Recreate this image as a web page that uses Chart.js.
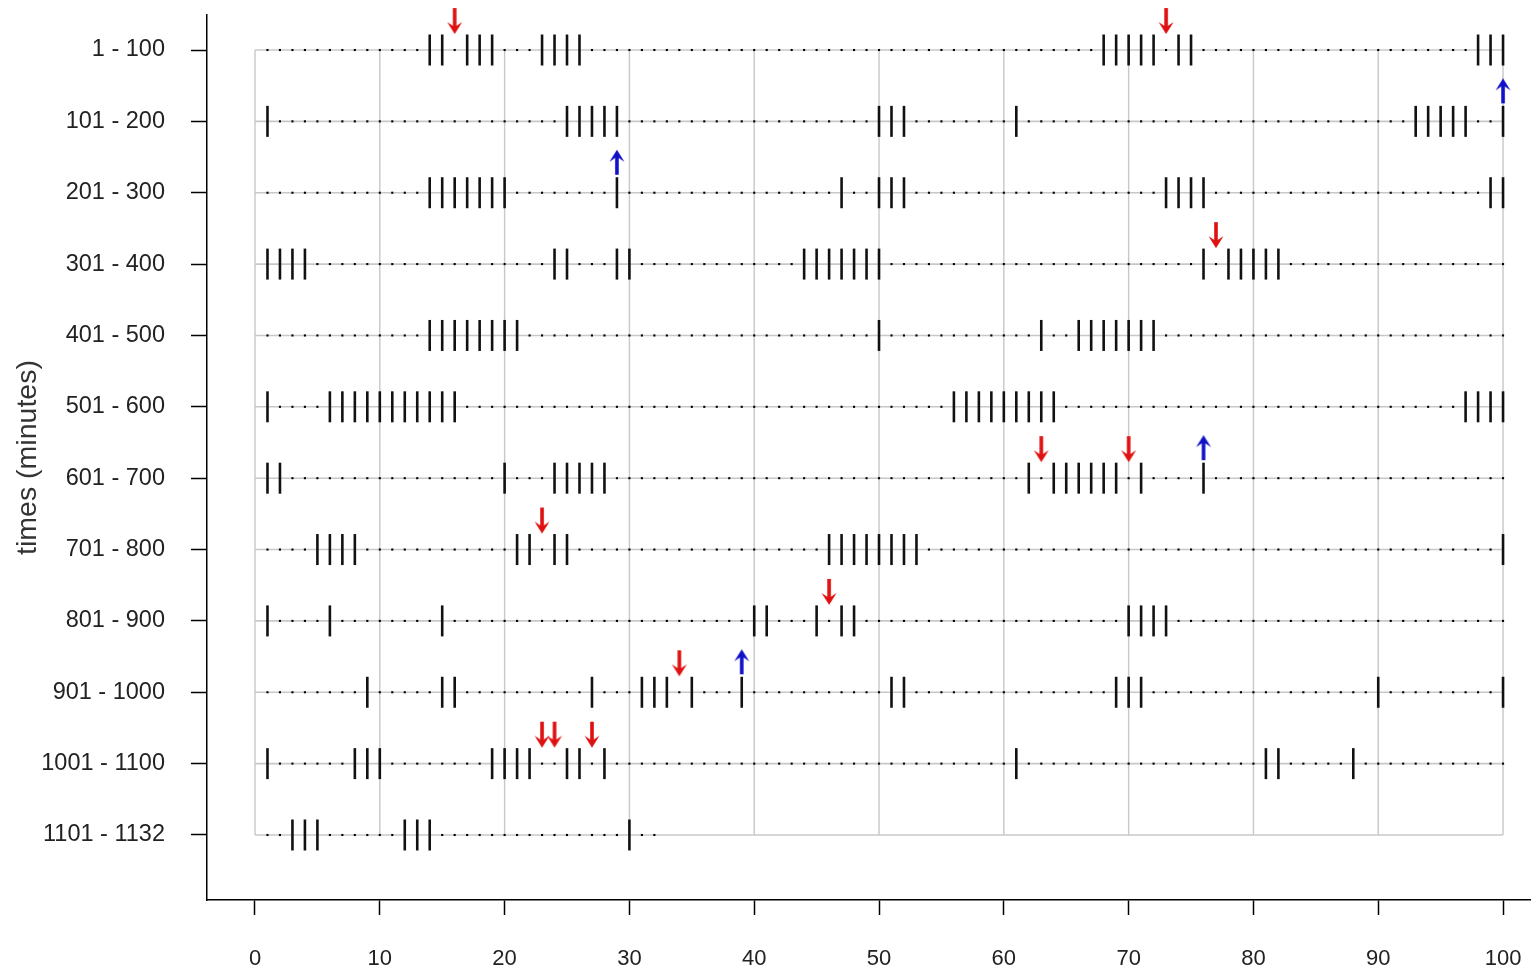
<!DOCTYPE html>
<html><head><meta charset="utf-8">
<script src="https://cdn.jsdelivr.net/npm/chart.js@4"></script>
<style>html,body{margin:0;padding:0;background:#fff;overflow:hidden}canvas{display:block}</style>
</head><body>
<canvas id="c" width="1536" height="974"></canvas>
<script>
// ---- data ----
const rowLabels = ['1 - 100','101 - 200','201 - 300','301 - 400','401 - 500','501 - 600',
  '601 - 700','701 - 800','801 - 900','901 - 1000','1001 - 1100','1101 - 1132'];
const rowSpans = [100,100,100,100,100,100,100,100,100,100,100,32];
const row01 = [14,15,17,18,19,23,24,25,26,68,69,70,71,72,74,75,98,99,100];
const row02 = [1,25,26,27,28,29,50,51,52,61,93,94,95,96,97,100];
const row03 = [14,15,16,17,18,19,20,29,47,50,51,52,73,74,75,76,99,100];
const row04 = [1,2,3,4,24,25,29,30,44,45,46,47,48,49,50,76,78,79,80,81,82];
const row05 = [14,15,16,17,18,19,20,21,50,63,66,67,68,69,70,71,72];
const row06 = [1,6,7,8,9,10,11,12,13,14,15,16,56,57,58,59,60,61,62,63,64,97,98,99,100];
const row07 = [1,2,20,24,25,26,27,28,62,64,65,66,67,68,69,71,76];
const row08 = [5,6,7,8,21,22,24,25,46,47,48,49,50,51,52,53,100];
const row09 = [1,6,15,40,41,45,47,48,70,71,72,73];
const row10 = [9,15,16,27,31,32,33,35,39,51,52,69,70,71,90,100];
const row11 = [1,8,9,10,19,20,21,22,25,26,28,61,81,82,88];
const row12 = [3,4,5,12,13,14,30];
const eventRows = [row01,row02,row03,row04,row05,row06,row07,row08,row09,row10,row11,row12];
const xTickValues = [0,10,20,30,40,50,60,70,80,90,100];
const redArrowMinutes = [16,73,77,63,70,23,46,34,23,24,27];
const redArrowRows    = [0,0,3,6,6,7,8,9,10,10,10];
const blueArrowMinutes = [100,29,76,39];
const blueArrowRows    = [1,2,6,9];

// ---- derived point lists ----
const tickPts = [];
eventRows.forEach((r,i)=>r.forEach(m=>tickPts.push({x:m,y:i})));
const dotPts = [];
rowSpans.forEach((n,i)=>{ for(let m=1;m<=n;m++){ if(!eventRows[i].includes(m)) dotPts.push({x:m,y:i}); } });
const redPts = redArrowMinutes.map((m,k)=>({x:m,y:redArrowRows[k]}));
const bluePts = blueArrowMinutes.map((m,k)=>({x:m,y:blueArrowRows[k]}));

function makeArrow(color, down){
  const c=document.createElement('canvas'); c.width=22; c.height=90;
  const g=c.getContext('2d'); g.fillStyle=color; g.strokeStyle=color;
  const cx=11;
  if(down){
    const tail=3, tip=29;
    g.fillRect(cx-1.8, tail, 3.6, tip-tail-6);
    g.beginPath(); g.moveTo(cx,tip); g.lineTo(cx-7.5,tip-12); g.lineTo(cx,tip-7); g.lineTo(cx+7.5,tip-12); g.closePath(); g.fill();
  } else {
    const tip=2, tail=27;
    g.fillRect(cx-1.8, tip+6, 3.6, tail-tip-6);
    g.beginPath(); g.moveTo(cx,tip); g.lineTo(cx-7.5,tip+12); g.lineTo(cx,tip+7); g.lineTo(cx+7.5,tip+12); g.closePath(); g.fill();
  }
  return c;
}
const redArrow = makeArrow('#e01010', true);
const blueArrow = makeArrow('#1010c8', false);

const gridColor = '#c8c8c8';
const datasets = [];
xTickValues.forEach(v=>datasets.push({data:[{x:v,y:0},{x:v,y:rowLabels.length-1}],showLine:true,pointRadius:0,borderColor:gridColor,borderWidth:1.4,order:10}));
rowLabels.forEach((_,i)=>datasets.push({data:[{x:0,y:i},{x:100,y:i}],showLine:true,pointRadius:0,borderColor:gridColor,borderWidth:1.6,order:10}));
datasets.push({data:dotPts,pointStyle:'rect',pointRadius:1.5,pointBackgroundColor:'#000',backgroundColor:'#000',pointBorderWidth:0,borderWidth:0,order:5});
datasets.push({data:tickPts,pointStyle:'line',pointRotation:90,pointRadius:15.5,pointBorderColor:'#111',borderColor:'#111',pointBorderWidth:2.6,borderWidth:2.6,order:4});
datasets.push({data:redPts,pointStyle:redArrow,pointRadius:10,order:1,clip:false});
datasets.push({data:bluePts,pointStyle:blueArrow,pointRadius:10,order:1,clip:false});

const noPad = s=>{s.paddingTop=0;s.paddingBottom=0;s.paddingLeft=0;s.paddingRight=0;};
const fam = '"Liberation Sans", Arial, sans-serif';
new Chart(document.getElementById('c'),{
  type:'scatter',
  data:{datasets},
  options:{
    responsive:false, animation:false, devicePixelRatio:1,
    layout:{autoPadding:false,padding:{left:0,top:15,right:6,bottom:0}},
    plugins:{legend:{display:false},tooltip:{enabled:false}},
    events:[],
    scales:{
      x:{type:'linear',min:-3.846,max:102.16,
        afterBuildTicks:s=>{s.ticks=xTickValues.map(v=>({value:v}));},
        afterFit:s=>{s.height=74;noPad(s);},
        ticks:{font:{family:fam,size:22,lineHeight:3.25},color:'#222',padding:8,maxRotation:0,autoSkip:false},
        grid:{drawOnChartArea:false,drawTicks:true,tickLength:15,tickColor:'#000',tickWidth:1.5},
        border:{display:true,color:'#000',width:1.5}
      },
      y:{type:'linear',reverse:true,min:-0.4905,max:11.911,
        afterBuildTicks:s=>{s.ticks=rowLabels.map((_,i)=>({value:i}));},
        afterFit:s=>{s.width=207;noPad(s);},
        ticks:{callback:v=>rowLabels[v],font:{family:fam,size:23.5},color:'#222',padding:26,autoSkip:false},
        grid:{drawOnChartArea:false,drawTicks:true,tickLength:16,tickColor:'#000',tickWidth:1.5},
        border:{display:true,color:'#000',width:1.5},
        title:{display:true,text:'times (minutes)',font:{family:fam,size:28.5},color:'#333',padding:{top:11,bottom:0}}
      }
    }
  }
});
</script>
</body></html>
